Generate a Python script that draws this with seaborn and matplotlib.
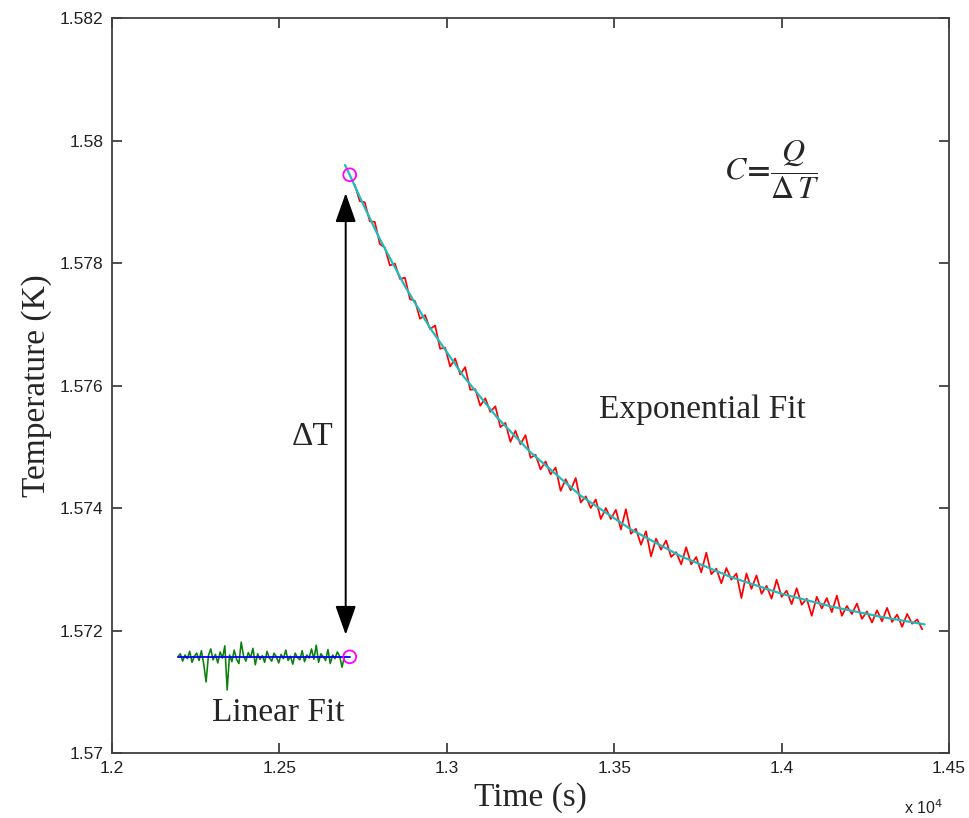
import numpy as np
import pandas as pd
import matplotlib
matplotlib.use("Agg")
import matplotlib.pyplot as plt
from matplotlib.patches import FancyArrowPatch
import seaborn as sns

# ---------------- data ----------------
green_time = [12197, 12204, 12211, 12218, 12225, 12232, 12239, 12246, 12253, 12260,
              12267, 12274, 12281, 12288, 12295, 12302, 12309, 12316, 12323, 12330,
              12337, 12344, 12351, 12358, 12365, 12372, 12379, 12386, 12393, 12400,
              12407, 12414, 12421, 12428, 12435, 12442, 12449, 12456, 12463, 12470,
              12477, 12484, 12491, 12498, 12505, 12512, 12519, 12526, 12533, 12540,
              12547, 12554, 12561, 12568, 12575, 12582, 12589, 12596, 12603, 12610,
              12617, 12624, 12631, 12638, 12645, 12652, 12659, 12666, 12673, 12680,
              12687, 12694]
green_temp = [1.57157, 1.57162, 1.57150, 1.57160, 1.57154, 1.57166, 1.57148, 1.57158, 1.57163, 1.57151,
              1.57167, 1.57145, 1.57116, 1.57159, 1.57170, 1.57152, 1.57161, 1.57147, 1.57165, 1.57155,
              1.57175, 1.57103, 1.57160, 1.57149, 1.57168, 1.57153, 1.57146, 1.57181, 1.57158, 1.57150,
              1.57164, 1.57156, 1.57171, 1.57144, 1.57162, 1.57153, 1.57159, 1.57148, 1.57166, 1.57155,
              1.57150, 1.57163, 1.57157, 1.57147, 1.57161, 1.57154, 1.57168, 1.57151, 1.57158, 1.57145,
              1.57163, 1.57156, 1.57152, 1.57167, 1.57149, 1.57160, 1.57155, 1.57170, 1.57153, 1.57176,
              1.57148, 1.57162, 1.57157, 1.57151, 1.57169, 1.57146, 1.57160, 1.57154, 1.57165, 1.57158,
              1.57140, 1.57157]

linfit_time = [12197, 12710]
linfit_temp = [1.57157, 1.57157]

red_time = [12725, 12740, 12755, 12770, 12785, 12800, 12815, 12830, 12845, 12860,
            12875, 12890, 12905, 12920, 12935, 12950, 12965, 12980, 12995, 13010,
            13025, 13040, 13055, 13070, 13085, 13100, 13115, 13130, 13145, 13160,
            13175, 13190, 13205, 13220, 13235, 13250, 13265, 13280, 13295, 13310,
            13325, 13340, 13355, 13370, 13385, 13400, 13415, 13430, 13445, 13460,
            13475, 13490, 13505, 13520, 13535, 13550, 13565, 13580, 13595, 13610,
            13625, 13640, 13655, 13670, 13685, 13700, 13715, 13730, 13745, 13760,
            13775, 13790, 13805, 13820, 13835, 13850, 13865, 13880, 13895, 13910,
            13925, 13940, 13955, 13970, 13985, 14000, 14015, 14030, 14045, 14060,
            14075, 14090, 14105, 14120, 14135, 14150, 14165, 14180, 14195, 14210,
            14225, 14240, 14255, 14270, 14285, 14300, 14315, 14330, 14345, 14360,
            14375, 14390, 14405, 14420]
red_temp = [1.57928, 1.57901, 1.57899, 1.57868, 1.57867, 1.57831, 1.57825, 1.57796, 1.57799, 1.57774,
            1.57776, 1.57741, 1.57738, 1.57709, 1.57715, 1.57692, 1.57698, 1.57660, 1.57662, 1.57631,
            1.57644, 1.57618, 1.57630, 1.57593, 1.57594, 1.57567, 1.57579, 1.57557, 1.57566, 1.57532,
            1.57539, 1.57508, 1.57526, 1.57504, 1.57519, 1.57482, 1.57487, 1.57463, 1.57476, 1.57455,
            1.57466, 1.57428, 1.57447, 1.57429, 1.57449, 1.57409, 1.57419, 1.57400, 1.57414, 1.57382,
            1.57400, 1.57382, 1.57397, 1.57365, 1.57398, 1.57358, 1.57366, 1.57340, 1.57362, 1.57321,
            1.57350, 1.57332, 1.57347, 1.57320, 1.57328, 1.57308, 1.57336, 1.57308, 1.57320, 1.57295,
            1.57327, 1.57292, 1.57301, 1.57277, 1.57302, 1.57283, 1.57293, 1.57253, 1.57293, 1.57268,
            1.57290, 1.57260, 1.57273, 1.57252, 1.57283, 1.57255, 1.57265, 1.57243, 1.57269, 1.57242,
            1.57252, 1.57224, 1.57255, 1.57236, 1.57253, 1.57230, 1.57257, 1.57224, 1.57240, 1.57227,
            1.57244, 1.57219, 1.57231, 1.57213, 1.57233, 1.57215, 1.57237, 1.57214, 1.57226, 1.57206,
            1.57227, 1.57211, 1.57218, 1.57202]

expfit_time = [12696, 12710, 12750, 12800, 12875, 12950, 13050, 13150, 13250,
               13400, 13550, 13700, 13850, 14000, 14150, 14300, 14427]
expfit_temp = [1.57960, 1.57944, 1.57896, 1.57839, 1.57762, 1.57694, 1.57615, 1.57548, 1.57491,
               1.57420, 1.57365, 1.57321, 1.57287, 1.57260, 1.57239, 1.57222, 1.57210]

marker_time = [12710, 12710]
marker_temp = [1.57157, 1.57944]

arrow_time = 12698
arrow_low, arrow_high = 1.57193, 1.57914

xtick_vals = [12000, 12500, 13000, 13500, 14000, 14500]
xtick_labels = ["1.2", "1.25", "1.3", "1.35", "1.4", "1.45"]
ytick_vals = [1.570, 1.572, 1.574, 1.576, 1.578, 1.580, 1.582]
ytick_labels = ["1.57", "1.572", "1.574", "1.576", "1.578", "1.58", "1.582"]

# ---------------- style ----------------
sns.set_style("ticks")
plt.rcParams["font.family"] = ["Liberation Sans", "DejaVu Sans"]
plt.rcParams["mathtext.fontset"] = "stix"

SERIF = ["Liberation Serif", "DejaVu Serif"]

fig = plt.figure(figsize=(9.69, 8.18), dpi=100)
ax = fig.add_axes([112 / 969, 1 - 753 / 818, (949 - 112) / 969, (753 - 18) / 818])

df_green = pd.DataFrame({"t": green_time, "T": green_temp})
df_lin = pd.DataFrame({"t": linfit_time, "T": linfit_temp})
df_red = pd.DataFrame({"t": red_time, "T": red_temp})
df_exp = pd.DataFrame({"t": expfit_time, "T": expfit_temp})
df_mark = pd.DataFrame({"t": marker_time, "T": marker_temp})

sns.lineplot(data=df_green, x="t", y="T", ax=ax, color="#0a800a", lw=1.15,
             estimator=None, sort=False)
sns.lineplot(data=df_lin, x="t", y="T", ax=ax, color="#0000ff", lw=1.3,
             estimator=None, sort=False)
sns.lineplot(data=df_red, x="t", y="T", ax=ax, color="#ff0000", lw=1.25,
             estimator=None, sort=False)
sns.lineplot(data=df_exp, x="t", y="T", ax=ax, color="#1fbcbc", lw=1.6,
             estimator=None, sort=False)
sns.scatterplot(data=df_mark, x="t", y="T", ax=ax, s=85, marker="o",
                facecolors="none", edgecolor="#ff00ff", linewidth=1.3, zorder=5)

arrow = FancyArrowPatch((arrow_time, arrow_low), (arrow_time, arrow_high),
                        arrowstyle="<|-|>,head_length=0.9,head_width=0.32",
                        mutation_scale=20, color="black", lw=1.4,
                        shrinkA=0, shrinkB=0, zorder=4)
ax.add_patch(arrow)

ax.text(12600, 1.57516, "ΔT", family=SERIF, fontsize=24, ha="center", va="center")
ax.text(13764, 1.57560, "Exponential Fit", family=SERIF, fontsize=24,
        ha="center", va="center")
ax.text(12496, 1.57065, "Linear Fit", family=SERIF, fontsize=24,
        ha="center", va="center")
ax.text(13970, 1.57952, r"$C\!\mathbf{=}\!\dfrac{Q}{\Delta\,T}$", fontsize=23,
        ha="center", va="center")

ax.set_xlim(12000, 14500)
ax.set_ylim(1.570, 1.582)
ax.set_xticks(xtick_vals)
ax.set_xticklabels(xtick_labels)
ax.set_yticks(ytick_vals)
ax.set_yticklabels(ytick_labels)
ax.tick_params(direction="in", length=7, width=1.2, colors="#303030",
               labelsize=12.5, labelcolor="#222222", top=True, right=True, pad=6)
for sp in ax.spines.values():
    sp.set_visible(True)
    sp.set_color("#404040")
    sp.set_linewidth(1.3)

ax.set_xlabel("Time (s)", family=SERIF, fontsize=24, labelpad=4)
ax.set_ylabel("Temperature (K)", family=SERIF, fontsize=24, labelpad=6)
ax.grid(False)

fig.text(923 / 969, 1 - 808 / 818, r"x 10$^{4}$", fontsize=11.5, color="#222222",
         ha="center", va="center", family=["Liberation Sans"],
         math_fontfamily="dejavusans")

fig.savefig("out.png", dpi=100, facecolor="white")
